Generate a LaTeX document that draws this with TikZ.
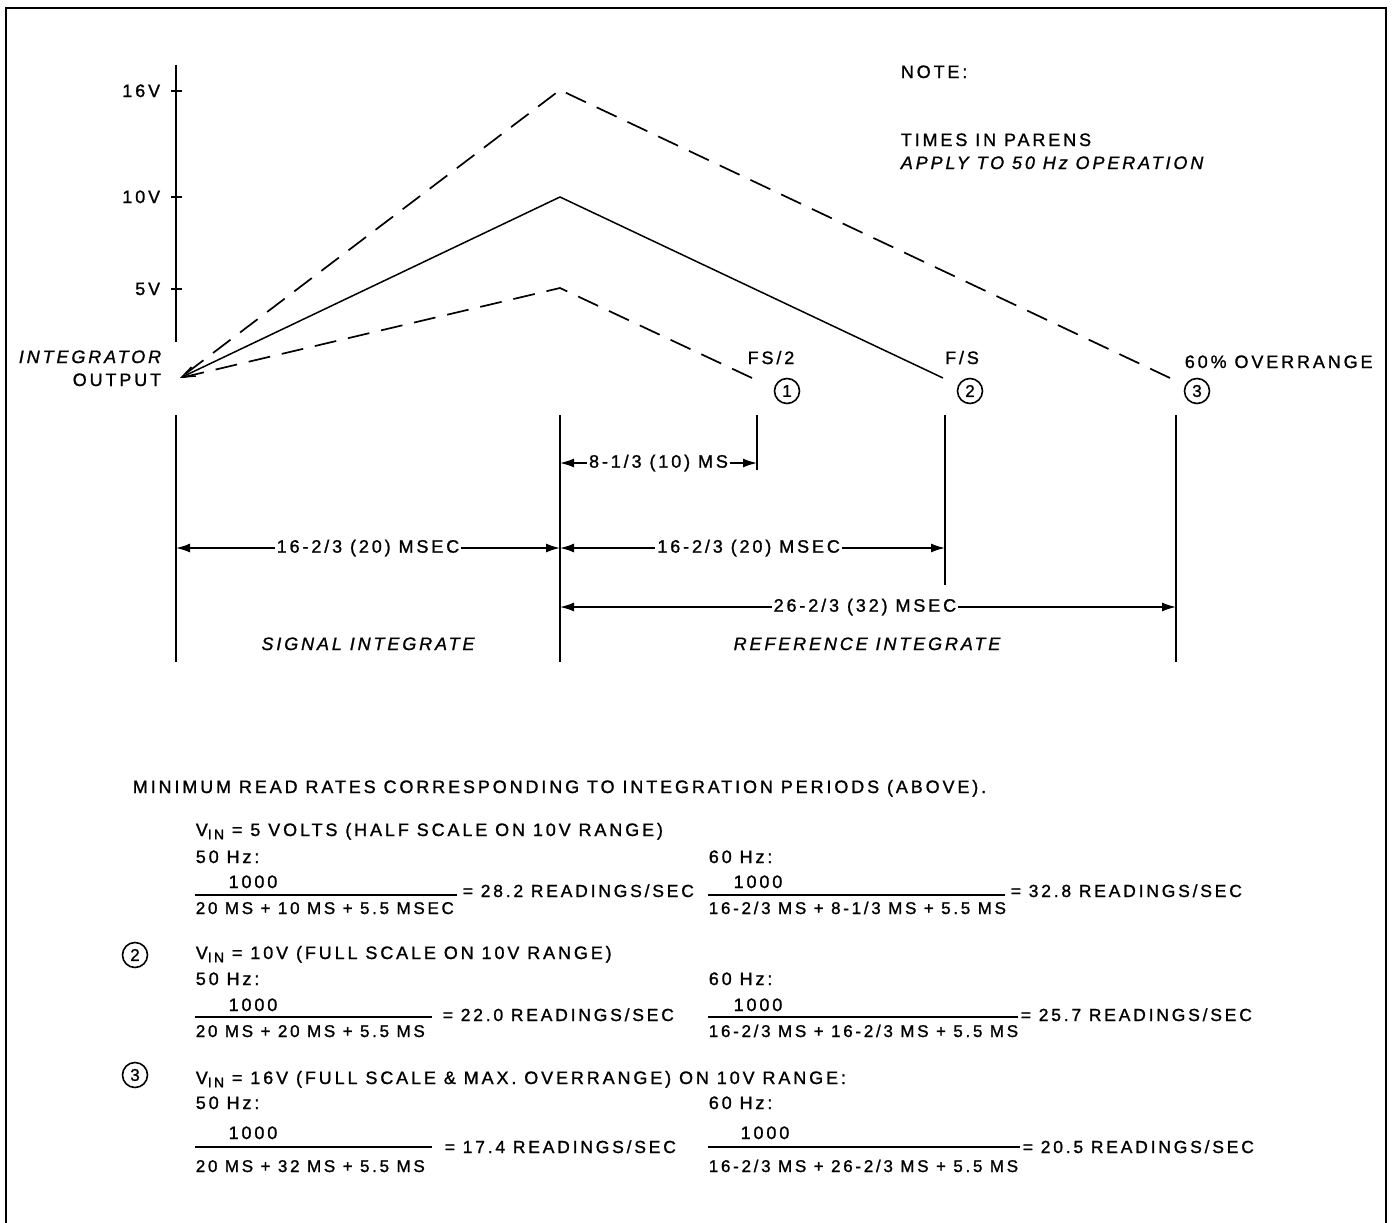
\documentclass[tikz,border=0pt]{standalone}
\usepackage{fontspec}
\setmainfont{Liberation Sans}[LetterSpace=16,FakeBold=1.2]
\usetikzlibrary{arrows.meta}
\begin{document}
\begin{tikzpicture}[x=1pt,y=-1pt,
  line width=1.7pt,
  lbl/.style={inner sep=0pt, font=\fontsize{18}{21}\selectfont},
  lblw/.style={lbl, anchor=base west},
  denom/.style={lblw, font=\fontsize{17}{20}\selectfont},
  reslt/.style={lblw, font=\fontsize{17.5}{20}\selectfont},
  dimtxt/.style={lbl, fill=white, inner xsep=2pt, inner ysep=3pt},
  dimline/.style={line width=1.5pt, {Latex[length=14pt,width=9pt]}-{Latex[length=14pt,width=9pt]}},
  dsh/.style={dash pattern=on 22pt off 12pt},
  circnum/.style={circle, draw, line width=1.6pt, minimum size=25pt, inner sep=0pt, font=\fontsize{17}{18}\selectfont},
  fracline/.style={line width=1.5pt},
  guide/.style={line width=1.5pt}]
\useasboundingbox (0,0) rectangle (1392,1223);
% frame
\draw[line width=2pt] (6,1223) -- (6,8) -- (1386,8) -- (1386,1223);

% axis
\draw[line width=1.7pt] (176,65) -- (176,342);
\foreach \yy in {91,197,289} \draw[line width=1.6pt] (171,\yy) -- (182,\yy);
\node[lbl, anchor=base east] (t16) at (161,97) {16V};
\node[lbl, anchor=base east] (t10) at (161,203) {10V};
\node[lbl, anchor=base east] (t5)  at (161,295) {5V};
\node[lbl, anchor=base east] (intg) at (162,363) {\itshape INTEGRATOR};
\node[lbl, anchor=base east] (outp) at (162,386) {OUTPUT};

% ramps
\coordinate (O) at (180,378);
\coordinate (P16) at (560,90);
\coordinate (P10) at (560,197);
\coordinate (P5) at (560,288);
\coordinate (E1) at (752,378);
\coordinate (E2) at (943,378);
\coordinate (E3) at (1170,378);
\draw[dsh] (E3) -- (P16) -- (O);
\draw[line width=1.5pt, -{Straight Barb[length=13pt,width=10pt]}] (E2) -- (P10) -- (O);
\draw[dsh] (E1) -- (P5) -- (O);

% labels at ends
\node[lbl, anchor=base] (fs2) at (771,364) {FS/2};
\node[lbl, anchor=base] (fs) at (962,364) {F/S};
\node[lbl, anchor=base west] (ovr) at (1184,368) {60\% OVERRANGE};
\node[circnum] (c1) at (787,391) {1};
\node[circnum] (c2) at (970,391) {2};
\node[circnum] (c3) at (1197,391) {3};

% note
\node[lblw] (note) at (900,78) {NOTE:};
\node[lblw] (times) at (900,146) {TIMES IN PARENS};
\node[lblw] (apply) at (900,169) {\itshape APPLY TO 50 Hz OPERATION};

% guides
\draw[guide] (176,415) -- (176,662);
\draw[guide] (560,415) -- (560,662);
\draw[guide] (757,415) -- (757,470);
\draw[guide] (945,415) -- (945,585);
\draw[guide] (1176,415) -- (1176,662);

% dimensions
\coordinate (d1a) at (560,463); \coordinate (d1b) at (757,463);
\draw[dimline] (d1a) -- node[dimtxt] (dim1) {8-1/3 (10) MS} (d1b);
\coordinate (d2a) at (176,548); \coordinate (d2b) at (560,548);
\draw[dimline] (d2a) -- node[dimtxt, pos=0.5] (dim2) {16-2/3 (20) MSEC} (d2b);
\coordinate (d3a) at (560,548); \coordinate (d3b) at (945,548);
\draw[dimline] (d3a) -- node[dimtxt, pos=0.49] (dim3) {16-2/3 (20) MSEC} (d3b);
\coordinate (d4a) at (560,607); \coordinate (d4b) at (1176,607);
\draw[dimline] (d4a) -- node[dimtxt, pos=0.495] (dim4) {26-2/3 (32) MSEC} (d4b);

\node[lbl, anchor=base] (sig) at (368,650) {\itshape SIGNAL INTEGRATE};
\node[lbl, anchor=base] (ref) at (867,650) {\itshape REFERENCE INTEGRATE};

% bottom text
\newcommand{\vin}{V\raisebox{-0.35ex}{\fontsize{14}{14}\selectfont IN}}
\node[lblw] (minr) at (132,793) {MINIMUM READ RATES CORRESPONDING TO INTEGRATION PERIODS (ABOVE).};

% case 1
\node[lblw] (v1) at (195,836) {\vin{} = 5 VOLTS (HALF SCALE ON 10V RANGE)};
\node[lblw] (h1a) at (195,863) {50 Hz:};
\node[lbl, anchor=base] (n1a) at (253,888) {1000};
\draw[fracline] (195,895) -- (457,895);
\node[denom] (d1aa) at (195,914) {20 MS + 10 MS + 5.5 MSEC};
\node[reslt] (r1a) at (462,897) {= 28.2 READINGS/SEC};
\node[lblw] (h1b) at (708,863) {60 Hz:};
\node[lbl, anchor=base] (n1b) at (758,888) {1000};
\draw[fracline] (708,895) -- (1005,895);
\node[denom] (d1bb) at (708,914) {16-2/3 MS + 8-1/3 MS + 5.5 MS};
\node[reslt] (r1b) at (1010,897) {= 32.8 READINGS/SEC};

% case 2
\node[circnum] (k2) at (135,955) {2};
\node[lblw] (v2) at (195,959) {\vin{} = 10V (FULL SCALE ON 10V RANGE)};
\node[lblw] (h2a) at (195,985) {50 Hz:};
\node[lbl, anchor=base] (n2a) at (253,1011) {1000};
\draw[fracline] (195,1017) -- (432,1017);
\node[denom] (d2aa) at (195,1037) {20 MS + 20 MS + 5.5 MS};
\node[reslt] (r2a) at (442,1021) {= 22.0 READINGS/SEC};
\node[lblw] (h2b) at (708,985) {60 Hz:};
\node[lbl, anchor=base] (n2b) at (758,1011) {1000};
\draw[fracline] (708,1017) -- (1018,1017);
\node[denom] (d2bb) at (708,1037) {16-2/3 MS + 16-2/3 MS + 5.5 MS};
\node[reslt] (r2b) at (1020,1021) {= 25.7 READINGS/SEC};

% case 3
\node[circnum] (k3) at (135,1075) {3};
\node[lblw] (v3) at (195,1084) {\vin{} = 16V (FULL SCALE \& MAX. OVERRANGE) ON 10V RANGE:};
\node[lblw] (h3a) at (195,1109) {50 Hz:};
\node[lbl, anchor=base] (n3a) at (253,1139) {1000};
\draw[fracline] (195,1147) -- (432,1147);
\node[denom] (d3aa) at (195,1172) {20 MS + 32 MS + 5.5 MS};
\node[reslt] (r3a) at (444,1153) {= 17.4 READINGS/SEC};
\node[lblw] (h3b) at (708,1109) {60 Hz:};
\node[lbl, anchor=base] (n3b) at (765,1139) {1000};
\draw[fracline] (708,1147) -- (1020,1147);
\node[denom] (d3bb) at (708,1172) {16-2/3 MS + 26-2/3 MS + 5.5 MS};
\node[reslt] (r3b) at (1022,1153) {= 20.5 READINGS/SEC};
\end{tikzpicture}
\end{document}
